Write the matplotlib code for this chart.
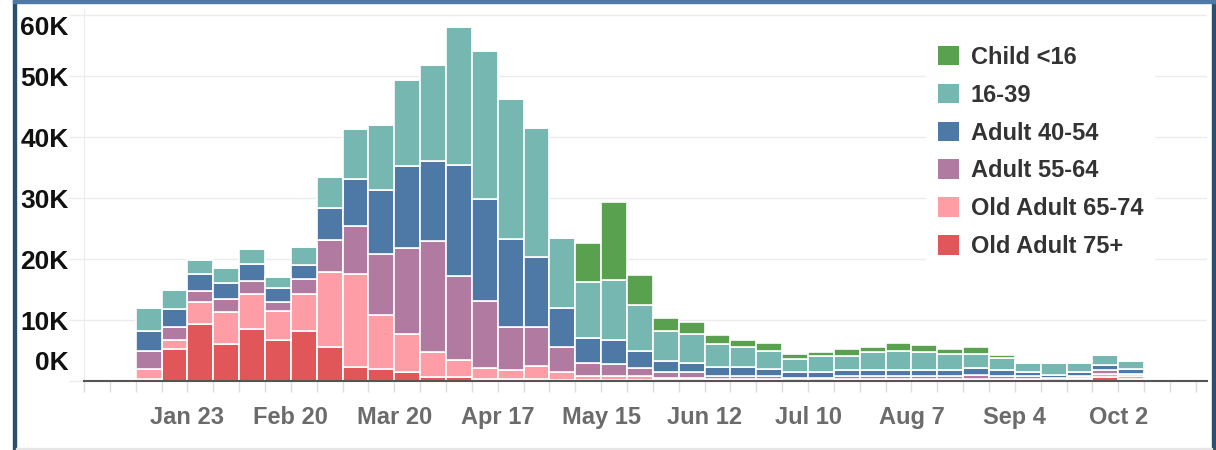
import numpy as np
import matplotlib
matplotlib.use("Agg")
from matplotlib import pyplot as plt
import matplotlib.dates as mdates
from matplotlib.patches import Rectangle, Patch
from matplotlib.transforms import ScaledTranslation

# weekly counts (thousands), one value per week starting Jan 9
old_75 = [0.3, 5.3, 9.3, 6.0, 8.6, 6.7, 8.2, 5.6, 2.3, 2.0, 1.4, 0.7, 0.7, 0.3, 0.3, 0.3, 0.2, 0.2, 0.2, 0.2,
          0.1, 0.1, 0.1, 0.1, 0.1, 0.1, 0.1, 0.1, 0.1, 0.1, 0.1, 0.2, 0.1, 0.1, 0.2, 0.1, 0.2, 0.6, 0.3]
old_65 = [1.7, 1.4, 3.6, 5.3, 5.6, 4.7, 6.1, 12.2, 15.2, 8.9, 6.3, 4.0, 2.7, 1.8, 1.5, 2.2, 1.2, 0.7, 0.7, 0.7,
          0.4, 0.4, 0.2, 0.2, 0.2, 0.1, 0.1, 0.2, 0.2, 0.2, 0.2, 0.2, 0.2, 0.2, 0.2, 0.1, 0.3, 0.5, 0.5]
adult_55 = [2.9, 2.2, 1.9, 2.2, 2.2, 1.5, 2.5, 5.3, 7.9, 9.9, 14.1, 18.3, 13.8, 11.1, 7.0, 6.4, 4.1, 2.1, 1.9, 1.2,
            0.9, 0.9, 0.5, 0.5, 0.5, 0.3, 0.3, 0.6, 0.6, 0.6, 0.6, 0.5, 0.7, 0.6, 0.5, 0.3, 0.4, 0.7, 0.3]
adult_40 = [3.3, 2.9, 2.7, 2.6, 2.8, 2.4, 2.3, 5.2, 7.8, 10.5, 13.5, 13.1, 18.3, 16.7, 14.5, 11.5, 6.4, 4.1, 3.9, 2.8,
            1.9, 1.6, 1.5, 1.5, 1.2, 0.9, 0.9, 0.9, 0.9, 0.9, 0.9, 0.9, 1.1, 0.9, 0.5, 0.5, 0.5, 0.8, 0.8]
young_16 = [3.8, 3.2, 2.4, 2.5, 2.4, 1.7, 2.9, 5.1, 8.1, 10.7, 14.1, 15.7, 22.5, 24.2, 22.9, 21.1, 11.6, 9.1, 9.9, 7.6,
            4.9, 4.7, 3.7, 3.3, 3.0, 2.2, 2.7, 2.3, 2.9, 3.1, 3.0, 2.7, 2.4, 1.9, 1.5, 1.9, 1.5, 1.7, 1.3]
child = [0, 0, 0, 0, 0, 0, 0, 0, 0, 0, 0, 0, 0, 0, 0, 0, 0, 6.4, 12.8, 4.8,
         2.2, 2.0, 1.5, 1.2, 1.2, 0.9, 0.7, 1.1, 0.8, 1.3, 1.1, 0.7, 1.0, 0.6, 0, 0, 0, 0, 0]

groups = ['Old Adult 75+', 'Old Adult 65-74', 'Adult 55-64', 'Adult 40-54', '16-39', 'Child <16']
colors = ['#e15759', '#ff9da7', '#b07aa1', '#4e79a7', '#76b7b2', '#59a14f']
series = [old_75, old_65, adult_55, adult_40, young_16, child]

first_week = np.datetime64('2022-01-09')
tick_labels = ['Jan 23', 'Feb 20', 'Mar 20', 'Apr 17', 'May 15', 'Jun 12', 'Jul 10', 'Aug 7', 'Sep 4', 'Oct 2']
y_labels = ['0K', '10K', '20K', '30K', '40K', '50K', '60K']

n = len(old_75)
weeks = first_week + np.arange(n) * np.timedelta64(7, 'D')
x = mdates.date2num(weeks.astype('datetime64[s]').astype(object))

fig = plt.figure(figsize=(12.16, 4.5), dpi=100)
ax = fig.add_axes([84 / 1216, 69 / 450, (1207 - 84) / 1216, (381 - 9) / 450])

bottom = np.zeros(n)
for vals, col in zip(series, colors):
    v = np.array(vals) * 1000
    ax.bar(x, v, width=7, align='edge', bottom=bottom, color=col, edgecolor='white', linewidth=1.2, zorder=2)
    bottom += v

ax.set_ylim(0, 61000)
ax.set_xlim(mdates.date2num(np.datetime64('2021-12-26').astype(object)),
            mdates.date2num(np.datetime64('2022-10-23').astype(object)) + 3)

# x ticks
major = [mdates.date2num((np.datetime64('2022-01-23') + np.timedelta64(28 * i, 'D')).astype(object))
         for i in range(len(tick_labels))]
minor = [mdates.date2num((np.datetime64('2021-12-26') + np.timedelta64(7 * i, 'D')).astype(object))
         for i in range(44)]
ax.set_xticks(major)
ax.set_xticklabels(tick_labels)
ax.set_xticks(minor, minor=True)
ax.tick_params(axis='x', which='both', length=8, width=1, color='#dcdcdc', pad=10)
for lab in ax.get_xticklabels():
    lab.set_fontsize(17)
    lab.set_fontweight('bold')
    lab.set_color('#6b6b6b')
    lab.set_fontfamily(['Liberation Sans', 'DejaVu Sans'])

# y ticks
ax.set_yticks(np.arange(0, 60001, 10000))
ax.set_yticklabels(y_labels)
ax.tick_params(axis='y', length=11, width=1, color='#ececec', pad=0)
ax.yaxis.grid(True, color='#ececec', linewidth=1, zorder=0)
ax.set_axisbelow(True)
shifts = {0: 20, 6: -10}
for i, lab in enumerate(ax.get_yticklabels()):
    lab.set_fontsize(19)
    lab.set_fontweight('bold')
    lab.set_color('#111111')
    lab.set_fontfamily(['Liberation Sans', 'DejaVu Sans'])
    if i in shifts:
        lab.set_transform(lab.get_transform() + ScaledTranslation(0, shifts[i] / 100, fig.dpi_scale_trans))

for s in ['top', 'right']:
    ax.spines[s].set_visible(False)
ax.spines['left'].set_color('#ececec')
ax.spines['bottom'].set_color('#555555')
ax.spines['bottom'].set_linewidth(1.5)
ax.spines['bottom'].set_zorder(3)

handles = [Patch(facecolor=c, edgecolor='none') for c in colors[::-1]]
leg = fig.legend(handles, groups[::-1], loc='upper left', bbox_to_anchor=(926 / 1216, 1 - 34 / 450),
                 frameon=True, facecolor='white', edgecolor='none', framealpha=1, fancybox=False,
                 prop={'family': ['Liberation Sans', 'DejaVu Sans'], 'weight': 'bold', 'size': 17},
                 handlelength=0.9, handleheight=0.9, handletextpad=0.5, labelspacing=0.63,
                 borderpad=0.5, borderaxespad=0)
for t in leg.get_texts():
    t.set_color('#333333')

# dashboard frame
fig.add_artist(Rectangle((13 / 1216, 0), 3 / 1216, 1, transform=fig.transFigure, color='#2b4f6e', zorder=5))
fig.add_artist(Rectangle((1212 / 1216, 0), 3 / 1216, 1, transform=fig.transFigure, color='#2b4f6e', zorder=5))
fig.add_artist(Rectangle((13 / 1216, 1 - 3 / 450), 1 - 13 / 1216, 3 / 450, transform=fig.transFigure,
                         color='#4e79a7', zorder=5))
fig.add_artist(Rectangle((16 / 1216, 1 / 450), (1212 - 16) / 1216, 1 / 450, transform=fig.transFigure,
                         color='#e6e6e6', zorder=5))

fig.savefig('out.png', dpi=100)
